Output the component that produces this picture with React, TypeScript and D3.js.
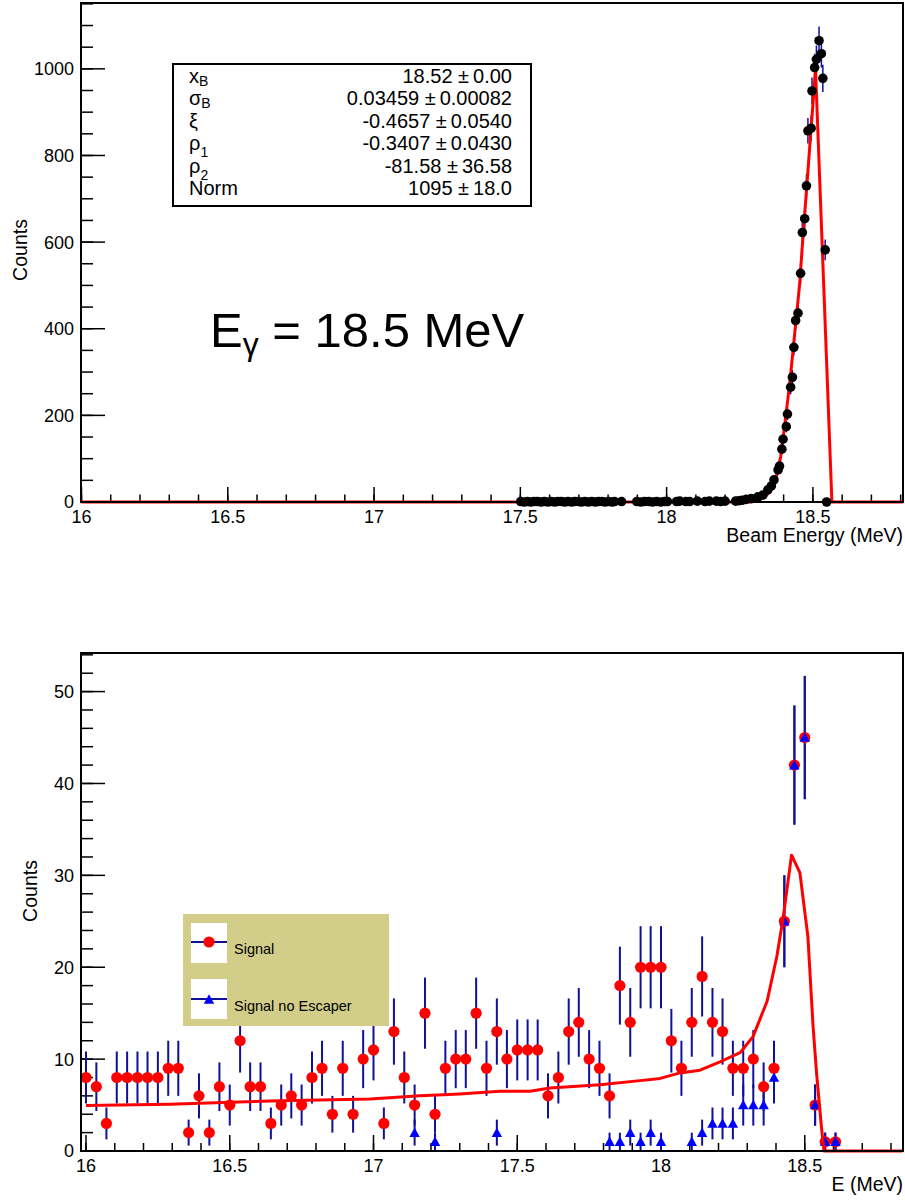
import React from 'react';
import * as d3 from 'd3';

// ---------- Top panel data (beam energy spectrum) ----------
const TOP_E = [
  17.501, 17.513, 17.524, 17.536, 17.547, 17.559, 17.571, 17.582, 17.594, 17.605,
  17.617, 17.628, 17.640, 17.652, 17.663, 17.675, 17.686, 17.698, 17.709, 17.721,
  17.733, 17.744, 17.756, 17.767, 17.779, 17.790, 17.802, 17.814, 17.822, 17.846,
  17.898, 17.912, 17.925, 17.939, 17.952, 17.966, 17.980, 17.993, 18.003, 18.034,
  18.045, 18.066, 18.079, 18.105, 18.131, 18.146, 18.170, 18.185, 18.200, 18.236,
  18.248, 18.258, 18.272, 18.289, 18.312, 18.329, 18.346, 18.358, 18.367, 18.381,
  18.386, 18.394, 18.398, 18.409, 18.413, 18.424, 18.430, 18.435, 18.441, 18.449,
  18.458, 18.464, 18.472, 18.478, 18.483, 18.494, 18.497, 18.506, 18.512, 18.521,
  18.529, 18.534, 18.542, 18.547,
];
const TOP_COUNTS = [
  1, 0, 1, 0, 1, 1, 0, 1, 0, 1,
  0, 1, 1, 0, 1, 0, 1, 1, 0, 1,
  0, 1, 0, 1, 1, 0, 1, 0, 1, 1,
  1, 0, 1, 1, 0, 1, 0, 1, 1, 1,
  2, 1, 1, 2, 1, 2, 2, 1, 2, 2,
  3, 4, 6, 8, 12, 16, 28, 37, 51, 74,
  83, 122, 145, 174, 203, 265, 288, 357, 419, 436,
  528, 622, 654, 730, 857, 863, 949, 1003, 1022, 1065,
  1035, 978, 582, 0,
];
const TOP_FIT_E = [16.0, 18.29, 18.312, 18.335, 18.358, 18.375, 18.39, 18.403, 18.421, 18.438, 18.455, 18.463, 18.509, 18.565, 18.808];
const TOP_FIT_COUNTS = [0, 0, 4, 11, 28, 58, 105, 174, 275, 390, 505, 583, 999, 0, 0];
const TOP_X_TICKS = [16, 16.5, 17, 17.5, 18, 18.5];
const TOP_Y_TICKS = [0, 200, 400, 600, 800, 1000];

const STATS_NAMES = ['x', 'σ', 'ξ', 'ρ', 'ρ', 'Norm'];
const STATS_SUBS = ['B', 'B', '', '1', '2', ''];
const STATS_VALUES = ['18.52', '0.03459', '-0.4657', '-0.3407', '-81.58', '1095'];
const STATS_ERRORS = ['0.00', '0.00082', '0.0540', '0.0430', '36.58', '18.0'];

// ---------- Bottom panel data ----------
const BOT_E = [
  16.000, 16.036, 16.071, 16.107, 16.143, 16.179, 16.214, 16.250, 16.286, 16.321,
  16.357, 16.393, 16.429, 16.464, 16.500, 16.536, 16.571, 16.607, 16.643, 16.679,
  16.714, 16.750, 16.786, 16.821, 16.857, 16.893, 16.929, 16.964, 17.000, 17.036,
  17.071, 17.107, 17.143, 17.179, 17.214, 17.250, 17.286, 17.321, 17.357, 17.393,
  17.429, 17.464, 17.500, 17.536, 17.571, 17.607, 17.643, 17.679, 17.714, 17.750,
  17.786, 17.821, 17.857, 17.893, 17.929, 17.964, 18.000, 18.036, 18.071, 18.107,
  18.143, 18.179, 18.214, 18.250, 18.286, 18.321, 18.357, 18.393, 18.429, 18.464,
  18.500, 18.536, 18.571, 18.607,
];
const SIGNAL = [
  8, 7, 3, 8, 8, 8, 8, 8, 9, 9,
  2, 6, 2, 7, 5, 12, 7, 7, 3, 5,
  6, 5, 8, 9, 4, 9, 4, 10, 11, 3,
  13, 8, 5, 15, 4, 9, 10, 10, 15, 9,
  13, 10, 11, 11, 11, 6, 8, 13, 14, 10,
  9, 6, 18, 14, 20, 20, 20, 12, 9, 14,
  19, 14, 13, 9, 9, 10, 7, 9, 25, 42,
  45, 5, 1, 1,
];
const SIGNAL_NO_ESC = [
  0, 0, 0, 0, 0, 0, 0, 0, 0, 0,
  0, 0, 0, 0, 0, 0, 0, 0, 0, 0,
  0, 0, 0, 0, 0, 0, 0, 0, 0, 0,
  0, 0, 2, 0, 1, 0, 0, 0, 0, 0,
  2, 0, 0, 0, 0, 0, 0, 0, 0, 0,
  0, 1, 1, 2, 1, 2, 1, 0, 0, 1,
  2, 3, 3, 3, 5, 5, 5, 8, 25, 42,
  45, 5, 1, 1,
];
const BOT_FIT_E = [16.0, 16.292, 16.5, 16.64, 16.988, 17.162, 17.3, 17.44, 17.544, 17.614, 17.788, 17.927, 17.997, 18.066, 18.136, 18.205, 18.275, 18.32, 18.369, 18.403, 18.424, 18.454, 18.483, 18.511, 18.529, 18.541, 18.558, 18.567, 18.84];
const BOT_FIT_COUNTS = [4.94, 5.1, 5.3, 5.45, 5.65, 6.0, 6.2, 6.5, 6.5, 6.85, 7.2, 7.66, 7.9, 8.5, 8.8, 9.7, 10.7, 12.45, 16.3, 21.2, 25.2, 32.2, 30.3, 23.3, 13.5, 8.5, 2.6, 0, 0];
const BOT_X_TICKS = [16, 16.5, 17, 17.5, 18, 18.5];
const BOT_Y_TICKS = [0, 10, 20, 30, 40, 50];

const FONT = '"Liberation Sans", Arial, Helvetica, sans-serif';
const ERR = '#101099';

function triPath(x: number, y: number) {
  return `M${x - 5.2},${y + 4.3} L${x + 5.2},${y + 4.3} L${x},${y - 5.2} Z`;
}

export default function App() {
  const xT = d3.scaleLinear().domain([16, 18.808]).range([81.5, 903]);
  const yT = d3.scaleLinear().domain([0, 1152]).range([502, 3]);
  const xB = d3.scaleLinear().domain([15.9826, 18.8417]).range([81, 903]);
  const yB = d3.scaleLinear().domain([0, 54.2]).range([1151, 653]);

  const topFit = d3.line<number>().x((_, i) => xT(TOP_FIT_E[i])).y((d) => yT(d))(TOP_FIT_COUNTS) || '';
  const botFit = d3.line<number>().x((_, i) => xB(BOT_FIT_E[i])).y((d) => yB(d))(BOT_FIT_COUNTS) || '';

  const topMinorX = d3.range(16, 18.81, 0.1);
  const topMinorY = d3.range(0, 1151, 50);
  const botMinorX = d3.range(16, 18.84, 0.1);
  const botMinorY = d3.range(0, 54.1, 2);

  const tickFont = 18;
  const titleFont = 19.5;

  return (
    <svg width={905} height={1200} style={{ position: 'absolute', left: 0, top: 0, background: '#fff' }} fontFamily={FONT}>
      <rect x={0} y={0} width={905} height={1200} fill="#fff" />

      {/* ===================== TOP PANEL ===================== */}
      <g>
        {topMinorX.map((v, i) => (
          <line key={'tmx' + i} x1={xT(v)} x2={xT(v)} y1={502} y2={494.5} stroke="#000" strokeWidth={1.5} />
        ))}
        {TOP_X_TICKS.map((v) => (
          <line key={'tMx' + v} x1={xT(v)} x2={xT(v)} y1={502} y2={487} stroke="#000" strokeWidth={1.5} />
        ))}
        {topMinorY.map((v, i) => (
          <line key={'tmy' + i} x1={81} x2={93} y1={yT(v)} y2={yT(v)} stroke="#000" strokeWidth={1.5} />
        ))}
        {TOP_Y_TICKS.map((v) => (
          <line key={'tMy' + v} x1={81} x2={105} y1={yT(v)} y2={yT(v)} stroke="#000" strokeWidth={1.5} />
        ))}
        {TOP_X_TICKS.map((v) => (
          <text key={'tlx' + v} x={xT(v)} y={523} fontSize={tickFont} textAnchor="middle" fill="#000">{v}</text>
        ))}
        {TOP_Y_TICKS.map((v) => (
          <text key={'tly' + v} x={74} y={yT(v)} dy="0.36em" fontSize={tickFont} textAnchor="end" fill="#000">{v}</text>
        ))}
        <text x={903} y={542} fontSize={titleFont} textAnchor="end" fill="#000">Beam Energy (MeV)</text>
        <text transform="translate(27,250) rotate(-90)" fontSize={titleFont} textAnchor="middle" fill="#000">Counts</text>

        {TOP_E.map((e, i) => {
          const c = TOP_COUNTS[i];
          const s = Math.sqrt(c);
          return (
            <line key={'te' + i} x1={xT(e)} x2={xT(e)} y1={yT(c - s)} y2={yT(c + s)} stroke={ERR} strokeWidth={1.5} />
          );
        })}
        <path d={topFit} fill="none" stroke="#ff0000" strokeWidth={3} strokeLinejoin="round" />
        {TOP_E.map((e, i) => (
          <circle key={'tp' + i} cx={xT(e)} cy={yT(TOP_COUNTS[i])} r={4.8} fill="#000" />
        ))}

        <rect x={81} y={3} width={822} height={499} fill="none" stroke="#000" strokeWidth={2} />

        {/* stats box */}
        <rect x={173} y={64} width={358} height={142} fill="#fff" stroke="#000" strokeWidth={2} />
        {STATS_NAMES.map((n, i) => {
          const base = 82.7 + i * 22.46;
          const sub = STATS_SUBS[i];
          const subDy = sub === 'B' ? 3 : 7;
          return (
            <g key={'st' + i}>
              <text x={189} y={base} fontSize={20} fill="#000">
                {n}
                {sub && (
                  <tspan fontSize={14} dy={subDy}>{sub}</tspan>
                )}
              </text>
              <text x={512} y={base} fontSize={20} textAnchor="end" fill="#000">
                {STATS_VALUES[i] + ' \u00b1\u2009' + STATS_ERRORS[i]}
              </text>
            </g>
          );
        })}

        <text x={210} y={347} fontSize={49} fill="#000">
          E<tspan fontSize={32} dy={8}>γ</tspan>
          <tspan dy={-8}> = 18.5 MeV</tspan>
        </text>
      </g>

      {/* ===================== BOTTOM PANEL ===================== */}
      <g>
        {botMinorX.map((v, i) => (
          <line key={'bmx' + i} x1={xB(v)} x2={xB(v)} y1={1151} y2={1143} stroke="#000" strokeWidth={1.5} />
        ))}
        {BOT_X_TICKS.map((v) => (
          <line key={'bMx' + v} x1={xB(v)} x2={xB(v)} y1={1151} y2={1135} stroke="#000" strokeWidth={1.5} />
        ))}
        {botMinorY.map((v, i) => (
          <line key={'bmy' + i} x1={81} x2={93} y1={yB(v)} y2={yB(v)} stroke="#000" strokeWidth={1.5} />
        ))}
        {BOT_Y_TICKS.map((v) => (
          <line key={'bMy' + v} x1={81} x2={105} y1={yB(v)} y2={yB(v)} stroke="#000" strokeWidth={1.5} />
        ))}
        {BOT_X_TICKS.map((v) => (
          <text key={'blx' + v} x={xB(v)} y={1172} fontSize={tickFont} textAnchor="middle" fill="#000">{v}</text>
        ))}
        {BOT_Y_TICKS.map((v) => (
          <text key={'bly' + v} x={74} y={yB(v)} dy="0.36em" fontSize={tickFont} textAnchor="end" fill="#000">{v}</text>
        ))}
        <text x={903} y={1191} fontSize={titleFont} textAnchor="end" fill="#000">E (MeV)</text>
        <text transform="translate(37,891) rotate(-90)" fontSize={titleFont} textAnchor="middle" fill="#000">Counts</text>

        {BOT_E.map((e, i) => {
          const c = SIGNAL[i];
          if (c <= 0) return null;
          const s = Math.sqrt(c);
          return <line key={'be' + i} x1={xB(e)} x2={xB(e)} y1={yB(c - s)} y2={yB(c + s)} stroke={ERR} strokeWidth={2} />;
        })}
        {BOT_E.map((e, i) => {
          const c = SIGNAL_NO_ESC[i];
          if (c <= 0) return null;
          const s = Math.sqrt(c);
          return <line key={'be2' + i} x1={xB(e)} x2={xB(e)} y1={yB(c - s)} y2={Math.min(1151, yB(c + s))} stroke={ERR} strokeWidth={2} />;
        })}
        {BOT_E.map((e, i) => (SIGNAL[i] > 0 ? (
          <circle key={'bp' + i} cx={xB(e)} cy={yB(SIGNAL[i])} r={5.6} fill="#ff0000" />
        ) : null))}
        {BOT_E.map((e, i) => (SIGNAL_NO_ESC[i] > 0 ? (
          <path key={'bt' + i} d={triPath(xB(e), yB(SIGNAL_NO_ESC[i]))} fill="#0000ff" />
        ) : null))}
        <path d={botFit} fill="none" stroke="#ff0000" strokeWidth={3} strokeLinejoin="round" />

        <rect x={81} y={653} width={822} height={498} fill="none" stroke="#000" strokeWidth={2} />

        {/* legend */}
        <rect x={183} y={914} width={206} height={112} fill="#d2cd88" />
        <rect x={191} y={923} width={36} height={40} fill="#fff" />
        <rect x={191} y={979} width={36} height={40} fill="#fff" />
        <line x1={191} x2={227} y1={942} y2={942} stroke={ERR} strokeWidth={2} />
        <circle cx={209} cy={942} r={5.6} fill="#ff0000" />
        <line x1={191} x2={227} y1={999} y2={999} stroke={ERR} strokeWidth={2} />
        <path d={triPath(209, 999.5)} fill="#0000ff" />
        <text x={234} y={954} fontSize={14.5} fill="#000">Signal</text>
        <text x={234} y={1011} fontSize={14.5} fill="#000">Signal no Escaper</text>
      </g>
    </svg>
  );
}
